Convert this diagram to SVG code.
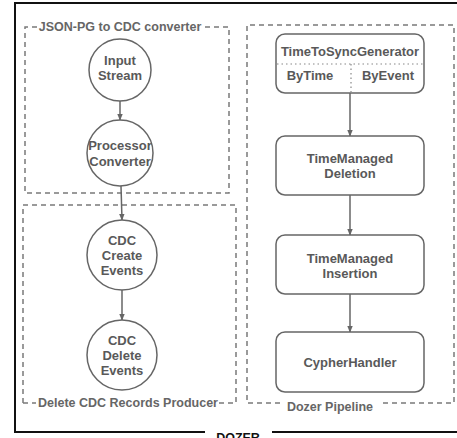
<svg xmlns="http://www.w3.org/2000/svg" width="457" height="438" viewBox="0 0 457 438">
  <defs>
    <marker id="arrow" viewBox="0 0 10 10" refX="9" refY="5" markerWidth="7" markerHeight="7" orient="auto-start-reverse" markerUnits="userSpaceOnUse">
      <path d="M0,1 L10,5 L0,9 Z" fill="#666"/>
    </marker>
  </defs>
  <style>
    .lbl { font-family: "Liberation Sans", Arial, sans-serif; font-weight: bold; font-size: 13px; fill: #595959; text-anchor: middle; }
    .grp { fill: none; stroke: #7a7a7a; stroke-width: 1.5; stroke-dasharray: 5 4; }
    .gtitle { font-family: "Liberation Sans", Arial, sans-serif; font-weight: bold; font-size: 12.5px; fill: #666; text-anchor: middle; }
    .shape { fill: #fff; stroke: #666; stroke-width: 1.5; }
    .edge { fill: none; stroke: #666; stroke-width: 1.5; marker-end: url(#arrow); }
    .div { fill: none; stroke: #888; stroke-width: 1.2; stroke-dasharray: 1.5 3; }
  </style>

  <rect width="457" height="438" fill="#fff"/>

  <!-- outer DOZER frame -->
  <g id="dozer">
    <path d="M205,432 H15 V3 H470 V432 H272" fill="none" stroke="#111" stroke-width="2"/>
    <text x="238" y="442" font-family="'Liberation Sans', Arial, sans-serif" font-weight="bold" font-size="12.5" fill="#111" text-anchor="middle">DOZER</text>
  </g>

  <!-- dashed groups -->
  <g id="converter-group">
    <path class="grp" d="M37,27 H25 V193 H229 V27 H205"/>
    <text class="gtitle" x="120" y="31">JSON-PG to CDC converter</text>
  </g>
  <g id="producer-group">
    <path class="grp" d="M23,403 V205 H236 V403"/>
    <path class="grp" d="M23,403 H36"/>
    <path class="grp" d="M219,403 H236"/>
    <text class="gtitle" x="128" y="407">Delete CDC Records Producer</text>
  </g>
  <g id="pipeline-group">
    <path class="grp" d="M280,403 H247 V25 H454 V403 H380"/>
    <text class="gtitle" x="330" y="411">Dozer Pipeline</text>
  </g>

  <!-- connectors -->
  <g id="connectors">
    <line class="edge" x1="120" y1="101" x2="120" y2="120"/>
    <line class="edge" x1="121" y1="186" x2="122" y2="220"/>
    <line class="edge" x1="122" y1="290" x2="122" y2="320"/>
    <line class="edge" x1="350" y1="93" x2="350" y2="136"/>
    <line class="edge" x1="350" y1="195" x2="350" y2="235"/>
    <line class="edge" x1="350" y1="294" x2="350" y2="332"/>
  </g>

  <!-- left nodes -->
  <g id="input-stream">
    <circle class="shape" cx="120" cy="70" r="31"/>
    <text class="lbl" x="120" y="65">Input</text>
    <text class="lbl" x="120" y="80">Stream</text>
  </g>
  <g id="processor-converter">
    <circle class="shape" cx="120" cy="153" r="33"/>
    <text class="lbl" x="120" y="150">Processor</text>
    <text class="lbl" x="120" y="166">Converter</text>
  </g>
  <g id="cdc-create">
    <circle class="shape" cx="122" cy="255" r="35"/>
    <text class="lbl" x="122" y="245">CDC</text>
    <text class="lbl" x="122" y="260">Create</text>
    <text class="lbl" x="122" y="275">Events</text>
  </g>
  <g id="cdc-delete">
    <circle class="shape" cx="122" cy="355" r="35"/>
    <text class="lbl" x="122" y="345">CDC</text>
    <text class="lbl" x="122" y="360">Delete</text>
    <text class="lbl" x="122" y="375">Events</text>
  </g>

  <!-- pipeline nodes -->
  <g id="time-to-sync">
    <rect class="shape" x="276" y="34" width="148" height="59" rx="9"/>
    <line class="div" x1="277" y1="64" x2="423" y2="64"/>
    <line class="div" x1="351" y1="64" x2="351" y2="92"/>
    <text class="lbl" x="350" y="56">TimeToSyncGenerator</text>
    <text class="lbl" x="310" y="80">ByTime</text>
    <text class="lbl" x="388" y="80">ByEvent</text>
  </g>
  <g id="tm-deletion">
    <rect class="shape" x="276" y="136" width="148" height="59" rx="9"/>
    <text class="lbl" x="350" y="163">TimeManaged</text>
    <text class="lbl" x="350" y="178">Deletion</text>
  </g>
  <g id="tm-insertion">
    <rect class="shape" x="276" y="235" width="148" height="59" rx="9"/>
    <text class="lbl" x="350" y="263">TimeManaged</text>
    <text class="lbl" x="350" y="278">Insertion</text>
  </g>
  <g id="cypher-handler">
    <rect class="shape" x="276" y="332" width="148" height="60" rx="9"/>
    <text class="lbl" x="350" y="367">CypherHandler</text>
  </g>
</svg>
